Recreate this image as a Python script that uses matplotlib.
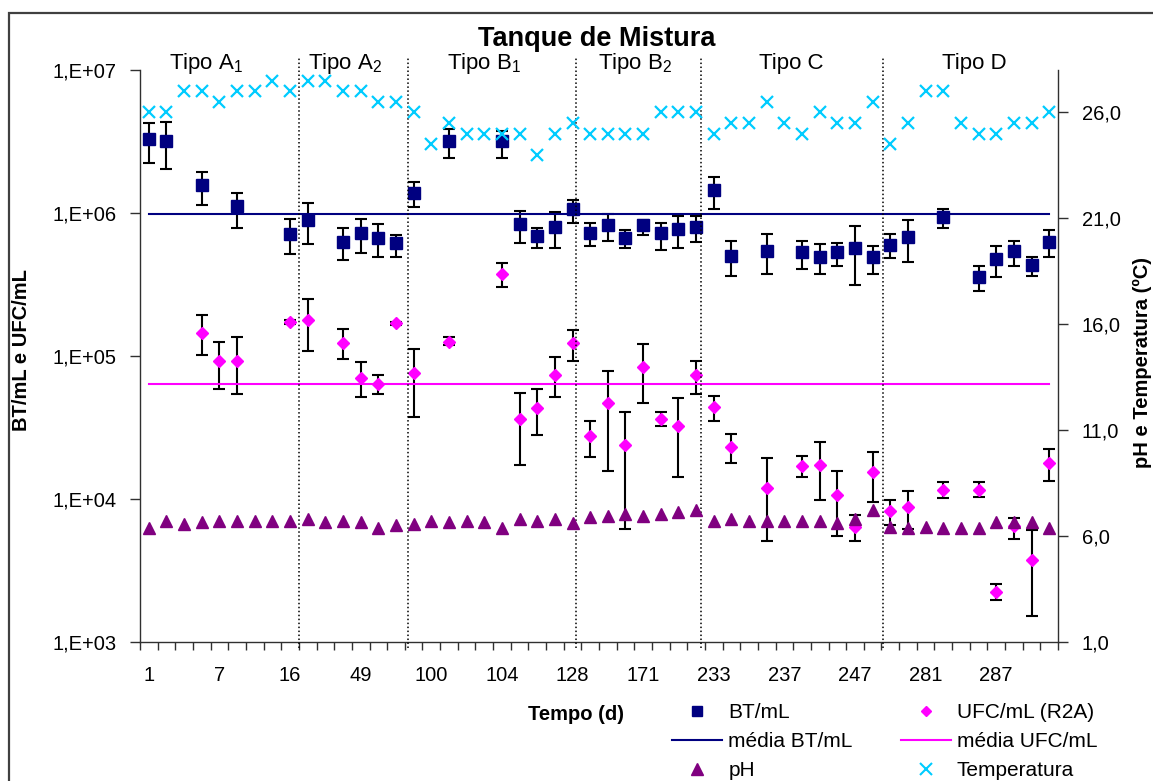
import numpy as np
import matplotlib
matplotlib.use("Agg")
import matplotlib.pyplot as plt
import matplotlib.transforms as mtransforms
from matplotlib.lines import Line2D
from matplotlib.patches import Rectangle
from matplotlib.ticker import FixedLocator, FixedFormatter, NullLocator

plt.rcParams['font.family'] = ['Liberation Sans', 'DejaVu Sans']
plt.rcParams['mathtext.fontset'] = 'custom'
plt.rcParams['mathtext.rm'] = 'Liberation Sans'
plt.rcParams['mathtext.it'] = 'Liberation Sans:italic'
plt.rcParams['mathtext.bf'] = 'Liberation Sans:bold'

nan = np.nan

# ---- data -----------------------------------------------------------------
# sampling days shown on the category axis (every 4th sample is labelled)
day_labels = ["1", "7", "16", "49", "100", "104", "128", "171",
              "233", "237", "247", "281", "287"]

group_names = ["Tipo A$_\\mathregular{1}$", "Tipo A$_\\mathregular{2}$",
               "Tipo B$_\\mathregular{1}$", "Tipo B$_\\mathregular{2}$",
               "Tipo C", "Tipo D"]

# total bacteria (BT/mL) with lower / upper error limits
bt = [3.30e6, 3.21e6, nan, 1.57e6, nan, 1.12e6, nan, nan, 7.11e5, 8.95e5,
      nan, 6.31e5, 7.30e5, 6.73e5, 6.15e5, 1.37e6, nan, 3.21e6, nan, nan,
      3.21e6, 8.39e5, 6.92e5, 7.96e5, 1.06e6, 7.30e5, 8.26e5, 6.73e5, 8.26e5, 7.30e5,
      7.74e5, 7.96e5, 1.45e6, 5.01e5, nan, 5.46e5, nan, 5.32e5, 4.91e5, 5.32e5,
      5.68e5, 4.91e5, 5.98e5, 6.84e5, nan, 9.44e5, nan, 3.59e5, 4.75e5, 5.46e5,
      4.34e5, 6.31e5]
bt_low = [2.25e6, 2.02e6, nan, 1.14e6, nan, 7.83e5, nan, nan, 5.16e5, 6.08e5,
          nan, 4.70e5, 5.29e5, 4.96e5, 4.96e5, 1.11e6, nan, 2.44e6, nan, nan,
          2.44e6, 6.21e5, 5.73e5, 5.73e5, 8.49e5, 5.92e5, 6.38e5, 5.73e5, 7.03e5, 5.52e5,
          5.73e5, 6.25e5, 1.07e6, 3.63e5, nan, 3.73e5, nan, 4.06e5, 3.75e5, 4.29e5,
          3.15e5, 3.75e5, 4.83e5, 4.57e5, nan, 7.83e5, nan, 2.83e5, 3.56e5, 4.29e5,
          3.63e5, 4.96e5]
bt_high = [4.24e6, 4.36e6, nan, 1.95e6, nan, 1.39e6, nan, nan, 9.06e5, 1.17e6,
           nan, 7.83e5, 9.06e5, 8.35e5, 7.03e5, 1.64e6, nan, 3.85e6, nan, nan,
           3.75e6, 1.04e6, 7.83e5, 1.01e6, 1.24e6, 8.49e5, 9.82e5, 7.62e5, 8.95e5, 8.49e5,
           9.55e5, 9.59e5, 1.79e6, 6.41e5, nan, 7.14e5, nan, 6.41e5, 6.08e5, 6.21e5,
           8.13e5, 5.89e5, 7.14e5, 8.95e5, nan, 1.07e6, nan, 4.29e5, 5.89e5, 6.41e5,
           4.91e5, 7.62e5]

# heterotrophic plate counts (UFC/mL, R2A) with lower / upper error limits
ufc = [nan, nan, nan, 1.44e5, 9.25e4, 9.25e4, nan, nan, 1.73e5, 1.78e5,
       nan, 1.23e5, 7.01e4, 6.40e4, 1.69e5, 7.60e4, nan, 1.26e5, nan, nan,
       3.73e5, 3.63e4, 4.30e4, 7.40e4, 1.23e5, 2.74e4, 4.69e4, 2.37e4, 8.32e4, 3.63e4,
       3.25e4, 7.40e4, 4.43e4, 2.31e4, nan, 1.19e4, nan, 1.69e4, 1.74e4, 1.07e4,
       6.37e3, 1.55e4, 8.28e3, 8.73e3, nan, 1.16e4, nan, 1.16e4, 2.23e3, 6.43e3,
       3.72e3, 1.79e4]
ufc_low = [nan, nan, nan, 1.01e5, 5.90e4, 5.42e4, nan, nan, 1.68e5, 1.09e5,
           nan, 9.51e4, 5.14e4, 5.42e4, 1.66e5, 3.72e4, nan, 1.19e5, nan, nan,
           3.06e5, 1.74e4, 2.81e4, 5.14e4, 9.30e4, 1.98e4, 1.58e4, 6.20e3, 4.69e4, 3.25e4,
           1.42e4, 5.42e4, 3.52e4, 1.79e4, nan, 5.06e3, nan, 1.42e4, 9.80e3, 5.54e3,
           5.06e3, 9.55e3, 6.61e3, 6.17e3, nan, 1.02e4, nan, 1.03e4, 1.98e3, 5.25e3,
           1.53e3, 1.34e4]
ufc_high = [nan, nan, nan, 1.94e5, 1.26e5, 1.35e5, nan, nan, 1.79e5, 2.51e5,
            nan, 1.55e5, 9.01e4, 7.40e4, 1.72e5, 1.12e5, nan, 1.35e5, nan, nan,
            4.46e5, 5.51e4, 5.87e4, 9.77e4, 1.51e5, 3.52e4, 7.80e4, 4.06e4, 1.21e5, 4.06e4,
            5.07e4, 9.25e4, 5.21e4, 2.86e4, nan, 1.94e4, nan, 1.99e4, 2.50e4, 1.58e4,
            7.76e3, 2.12e4, 9.77e3, 1.13e4, nan, 1.31e4, nan, 1.31e4, 2.55e3, 7.36e3,
            6.10e3, 2.24e4]

bt_mean = 9.8e5
ufc_mean = 6.34e4

ph = [6.4, 6.7, 6.55, 6.65, 6.7, 6.7, 6.7, 6.7, 6.7, 6.8,
      6.65, 6.7, 6.65, 6.4, 6.5, 6.55, 6.7, 6.65, 6.7, 6.65,
      6.4, 6.8, 6.7, 6.8, 6.6, 6.9, 6.95, 7.05, 6.95, 7.05,
      7.15, 7.25, 6.7, 6.8, 6.7, 6.7, 6.7, 6.7, 6.7, 6.6,
      6.8, 7.25, 6.45, 6.4, 6.45, 6.4, 6.4, 6.4, 6.65, 6.65,
      6.65, 6.4]

temperatura = [26.0, 26.0, 27.0, 27.0, 26.5, 27.0, 27.0, 27.5, 27.0, 27.5,
               27.5, 27.0, 27.0, 26.5, 26.5, 26.0, 24.5, 25.5, 25.0, 25.0,
               25.0, 25.0, 24.0, 25.0, 25.5, 25.0, 25.0, 25.0, 25.0, 26.0,
               26.0, 26.0, 25.0, 25.5, 25.5, 26.5, 25.5, 25.0, 26.0, 25.5,
               25.5, 26.5, 24.5, 25.5, 27.0, 27.0, 25.5, 25.0, 25.0, 25.5,
               25.5, 26.0]

# ---- styling / layout -----------------------------------------------------
C_BT = '#000080'
C_UFC = '#FF00FF'
C_PH = '#800080'
C_TEMP = '#00CCFF'
AXIS_C = '#303030'

W, H = 1153, 781
fig = plt.figure(figsize=(W / 100, H / 100), dpi=100)
ax = fig.add_axes([140 / W, (H - 642) / H, 918 / W, 572 / H])
ax2 = ax.twinx()

x = np.arange(len(temperatura))
bt_a, bl, bh = np.array(bt), np.array(bt_low), np.array(bt_high)
uf_a, ul, uh = np.array(ufc), np.array(ufc_low), np.array(ufc_high)

# error bars first, markers on top
m = ~np.isnan(bt_a)
ax.errorbar(x[m], bt_a[m], yerr=[bt_a[m] - bl[m], bh[m] - bt_a[m]], fmt='none',
            ecolor='black', elinewidth=1.5, capsize=4.5, capthick=1.5, zorder=2)
m2 = ~np.isnan(uf_a)
ax.errorbar(x[m2], uf_a[m2], yerr=[uf_a[m2] - ul[m2], uh[m2] - uf_a[m2]], fmt='none',
            ecolor='black', elinewidth=1.5, capsize=4.5, capthick=1.5, zorder=2)

ax.plot(x[m], bt_a[m], ls='none', marker='s', ms=8, color=C_BT, mec=C_BT, zorder=3)
ax.plot(x[m2], uf_a[m2], ls='none', marker='D', ms=6.3, color=C_UFC, mec=C_UFC, zorder=3)
ax.plot(x, np.full(len(x), bt_mean), color=C_BT, lw=1.5, zorder=2.5)
ax.plot(x, np.full(len(x), ufc_mean), color=C_UFC, lw=1.5, zorder=2.5)

ax2.plot(x, ph, ls='none', marker='^', ms=9, color=C_PH, mec=C_PH, zorder=3)
ax2.plot(x, temperatura, ls='none', marker='x', ms=9, mew=1.6, color=C_TEMP, zorder=3)

# primary (log) axis
ax.set_yscale('log')
ax.set_ylim(1e3, 1e7)
ax.yaxis.set_major_locator(FixedLocator([1e3, 1e4, 1e5, 1e6, 1e7]))
ax.yaxis.set_major_formatter(FixedFormatter(["1,E+03", "1,E+04", "1,E+05", "1,E+06", "1,E+07"]))
ax.yaxis.set_minor_locator(NullLocator())
ax.set_xlim(-0.5, len(x) - 0.5)
ax.set_xticks(x[::4])
ax.set_xticklabels(day_labels)
ax.set_xticks(np.arange(-0.5, len(x), 1.0), minor=True)
ax.tick_params(axis='x', which='major', length=0, pad=17, labelsize=14.5)
ax.tick_params(axis='x', which='minor', length=6, width=1, color=AXIS_C, direction='out')
ax.tick_params(axis='y', which='major', length=7, width=1, color=AXIS_C, pad=10, labelsize=14.5)

# secondary (linear) axis
ax2.set_ylim(1, 28)
ax2.yaxis.set_major_locator(FixedLocator([1, 6, 11, 16, 21, 26]))
ax2.yaxis.set_major_formatter(FixedFormatter(["1,0", "6,0", "11,0", "16,0", "21,0", "26,0"]))
ax2.tick_params(axis='y', length=7, width=1, color=AXIS_C, pad=10, labelsize=14.5)

for a in (ax, ax2):
    a.spines['top'].set_visible(False)
    for s in a.spines.values():
        s.set_color(AXIS_C)
        s.set_linewidth(1)
ax.spines['right'].set_visible(False)
ax2.spines['left'].set_visible(False)
ax2.spines['bottom'].set_visible(False)
ax.patch.set_visible(False)

# phase dividers and phase names
trans = mtransforms.blended_transform_factory(ax.transData, ax.transAxes)
for d in [8.5, 14.66, 24.2, 31.26, 41.57]:
    ax2.plot([d, d], [-0.01, 1.023], transform=trans, color='black', lw=1.1,
             dashes=(1, 1.6), clip_on=False, zorder=1)
for name, cx in zip(group_names, [3.24, 11.11, 18.99, 27.55, 36.38, 46.75]):
    ax2.text(cx, 1.011, name, transform=trans, ha='center', va='center', fontsize=16)

# titles
fig.text(597 / W, 1 - 39 / H, "Tanque de Mistura", ha='center', va='center',
         fontsize=19.5, fontweight='bold')
fig.text(22 / W, 1 - 350 / H, "BT/mL e UFC/mL", rotation=90, ha='center', va='center',
         fontsize=14.5, fontweight='bold')
fig.text(1142 / W, 1 - 362 / H, "pH e Temperatura (ºC)", rotation=90, ha='center', va='center',
         fontsize=14.5, fontweight='bold')
fig.text(576 / W, 1 - 714 / H, "Tempo (d)", ha='center', va='center',
         fontsize=14.5, fontweight='bold')

# legend
handles = [
    Line2D([], [], ls='none', marker='s', ms=7, color=C_BT),
    Line2D([], [], color=C_BT, lw=1.5),
    Line2D([], [], ls='none', marker='^', ms=9, color=C_PH),
    Line2D([], [], ls='none', marker='D', ms=5.5, color=C_UFC),
    Line2D([], [], color=C_UFC, lw=1.5),
    Line2D([], [], ls='none', marker='x', ms=8, mew=1.5, color=C_TEMP),
]
labels = ["BT/mL", "média BT/mL", "pH", "UFC/mL (R2A)", "média UFC/mL", "Temperatura"]
fig.legend(handles, labels, ncol=2, loc='upper left',
           bbox_to_anchor=(672 / W, 1 - 703 / H), frameon=False, fontsize=15,
           handlelength=2.4, handletextpad=0.3, columnspacing=2.3,
           labelspacing=0.48, borderpad=0, borderaxespad=0)

# chart frame
fig.patches.append(Rectangle((9 / W, -0.05), 1.2, 1.05 + (H - 13) / H - 1.0,
                             transform=fig.transFigure, fill=False,
                             edgecolor='#404040', lw=1.6))

fig.savefig("out.png", dpi=100)
